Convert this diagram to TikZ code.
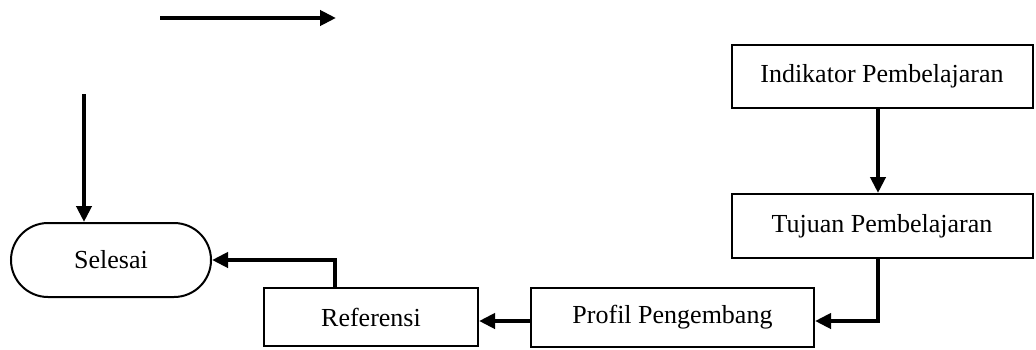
\documentclass[tikz,border=0pt]{standalone}
\usepackage{fontspec}
\setmainfont{Liberation Serif}
\usetikzlibrary{arrows.meta}
\begin{document}
\begin{tikzpicture}[x=1pt,y=-1pt,
  box/.style={draw, line width=2pt, rectangle, inner sep=0pt, font=\fontsize{26}{31}\selectfont},
  term/.style={box, rounded corners=37pt},
  flow/.style={line width=4pt, -{Triangle[length=16pt,width=15pt]}}]
\useasboundingbox (0,0) rectangle (1036,349);
% free-standing arrows
\coordinate (hA) at (160,18);
\coordinate (hB) at (336,18);
\coordinate (vA) at (84,94);
% boxes
\node[box, minimum width=301pt, minimum height=63pt] (ind) at (882,76) {Indikator Pembelajaran};
\node[box, minimum width=301pt, minimum height=64pt] (tuj) at (882,226) {Tujuan Pembelajaran};
\node[box, minimum width=283pt, minimum height=59pt] (pro) at (672.5,317) {Profil Pengembang};
\node[box, minimum width=214pt, minimum height=58pt] (ref) at (371,317) {Referensi};
\node[term, minimum width=200pt, minimum height=74pt] (sel) at (111,260) {Selesai};
% connectors
\draw[flow] (hA) -- (hB);
\draw[flow] (vA) -- (vA |- sel.north);
\draw[flow] (ind.south -| 878,0) -- (tuj.north -| 878,0);
\draw[flow] (tuj.south -| 878,0) |- ([yshift=-4pt]pro.east);
\draw[flow] ([yshift=-4pt]pro.west) -- ([yshift=-4pt]ref.east);
\draw[flow] (ref.north -| 335,0) |- (sel.east);
\end{tikzpicture}
\end{document}
